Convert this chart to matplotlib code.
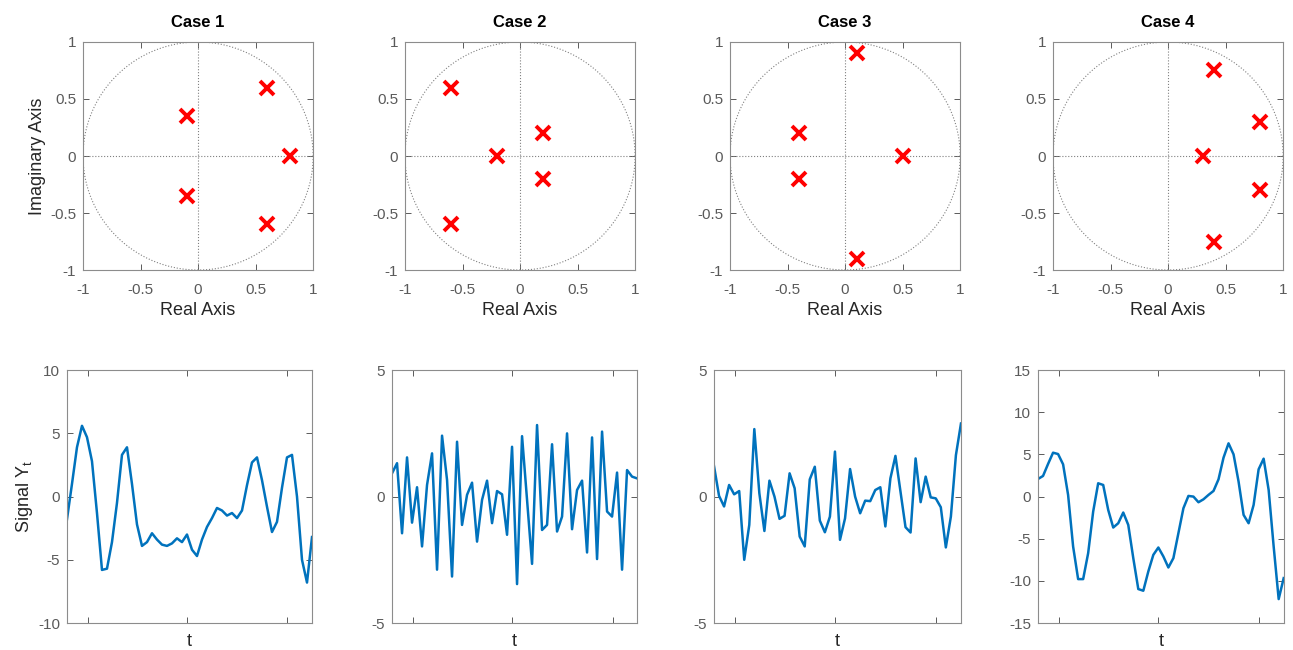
import numpy as np
import matplotlib
matplotlib.use("Agg")
import matplotlib.pyplot as plt

plt.rcParams['font.family'] = ['Liberation Sans', 'DejaVu Sans']
plt.rcParams['axes.unicode_minus'] = False

titles = ["Case 1", "Case 2", "Case 3", "Case 4"]

# Poles (real, imaginary)
pole_re = [
    [0.8, 0.6, 0.6, -0.1, -0.1],
    [-0.6, -0.6, -0.2, 0.2, 0.2],
    [0.1, 0.1, -0.4, -0.4, 0.5],
    [0.4, 0.4, 0.8, 0.8, 0.3],
]
pole_im = [
    [0.0, 0.6, -0.6, 0.35, -0.35],
    [0.6, -0.6, 0.0, 0.2, -0.2],
    [0.9, -0.9, 0.2, -0.2, 0.0],
    [0.75, -0.75, 0.3, -0.3, 0.0],
]

signal_1 = [-1.8, 1.0, 3.9, 5.6, 4.7, 2.8, -1.3, -5.8, -5.7, -3.6,
            -0.5, 3.3, 3.9, 1.0, -2.2, -3.9, -3.6, -2.9, -3.4, -3.8,
            -3.9, -3.7, -3.3, -3.6, -3.0, -4.2, -4.7, -3.4, -2.4, -1.7,
            -0.9, -1.1, -1.5, -1.3, -1.7, -1.1, 0.9, 2.7, 3.1, 1.3,
            -0.8, -2.8, -2.0, 0.7, 3.1, 3.3, 0.0, -5.0, -6.8, -3.2]
signal_2 = [0.92, 1.32, -1.45, 1.55, -1.03, 0.37, -1.97, 0.46, 1.71, -2.89,
            2.41, 0.66, -3.16, 2.17, -1.12, 0.07, 0.55, -1.78, -0.13, 0.63,
            -1.05, 0.22, 0.09, -1.51, 1.97, -3.46, 2.39, -0.13, -2.66, 2.83,
            -1.32, -1.12, 2.07, -1.38, -0.79, 2.50, -1.29, 0.26, 0.63, -2.21,
            2.34, -2.47, 2.57, -0.59, -0.79, 0.95, -2.89, 1.05, 0.79, 0.72]
signal_3 = [1.21, 0.03, -0.39, 0.46, 0.09, 0.22, -2.5, -1.12, 2.67, 0.13,
            -1.36, 0.63, 0.0, -0.88, -0.76, 0.92, 0.33, -1.58, -1.97, 0.68,
            1.18, -0.95, -1.41, -0.79, 1.78, -1.71, -0.86, 1.09, 0.0, -0.66,
            -0.16, -0.18, 0.26, 0.37, -1.18, 0.72, 1.61, 0.2, -1.21, -1.42,
            1.51, -0.22, 0.79, -0.03, -0.07, -0.42, -2.01, -0.79, 1.64, 2.89]
signal_4 = [2.09, 2.45, 3.87, 5.21, 5.05, 3.83, 0.2, -5.92, -9.79, -9.79,
            -6.71, -1.78, 1.58, 1.38, -1.58, -3.67, -3.16, -1.89, -3.36, -7.3,
            -10.97, -11.17, -8.88, -6.91, -6.04, -7.1, -8.41, -7.3, -4.34, -1.38,
            0.08, 0.0, -0.67, -0.32, 0.2, 0.67, 2.05, 4.62, 6.32, 5.01,
            1.78, -2.17, -3.16, -0.99, 3.24, 4.5, 0.79, -5.92, -12.16, -9.67]
signals = [signal_1, signal_2, signal_3, signal_4]

sig_ylims = [(-10, 10), (-5, 5), (-5, 5), (-15, 15)]
sig_yticks = [[-10, -5, 0, 5, 10], [-5, 0, 5], [-5, 0, 5], [-15, -10, -5, 0, 5, 10, 15]]

fig = plt.figure(figsize=(12.93, 6.5), dpi=100)

top_lefts = [0.0642, 0.3132, 0.5646, 0.8144]
top_w = 0.178
top_b, top_h = 0.5846, 0.3508
bot_lefts = [0.0518, 0.3032, 0.5522, 0.8028]
bot_ws = [0.1895, 0.1895, 0.191, 0.19]
bot_b, bot_h = 0.0415, 0.389

spine_col = '#8c8c8c'
tick_col = '#5a5a5a'
lab_col = '#262626'
blue = '#0072BD'

theta = np.linspace(0, 2 * np.pi, 400)

for i in range(4):
    ax = fig.add_axes([top_lefts[i], top_b, top_w, top_h])
    ax.plot(np.cos(theta), np.sin(theta), ls=':', color='#808080', lw=0.8)
    ax.axhline(0, ls=':', color='#808080', lw=0.8)
    ax.axvline(0, ls=':', color='#808080', lw=0.8)
    ax.plot(pole_re[i], pole_im[i], ls='none', marker='x', color='#FF0000',
            markersize=10, mew=2.8)
    ax.set_xlim(-1, 1)
    ax.set_ylim(-1, 1)
    ax.set_xticks([-1, -0.5, 0, 0.5, 1])
    ax.set_yticks([-1, -0.5, 0, 0.5, 1])
    ax.set_xticklabels(['-1', '-0.5', '0', '0.5', '1'])
    ax.set_yticklabels(['-1', '-0.5', '0', '0.5', '1'])
    ax.set_title(titles[i], fontsize=12, fontweight='bold', color='black', pad=11)
    ax.set_xlabel('Real Axis', fontsize=13, color=lab_col, labelpad=4)
    if i == 0:
        ax.set_ylabel('Imaginary Axis', fontsize=13, color=lab_col, labelpad=3)

    ax2 = fig.add_axes([bot_lefts[i], bot_b, bot_ws[i], bot_h])
    y = signals[i]
    x = np.arange(1, len(y) + 1)
    ax2.plot(x, y, color=blue, lw=1.8)
    ax2.set_xlim(1, len(y))
    ax2.set_ylim(*sig_ylims[i])
    ax2.set_yticks(sig_yticks[i])
    ax2.set_xticks([5.2, 25, 45.1])
    ax2.set_xticklabels([])
    if i == 0:
        ax2.set_ylabel('Signal Y$_\\mathregular{t}$', fontsize=13, color=lab_col, labelpad=2)

    for a in (ax, ax2):
        for s in a.spines.values():
            s.set_color(spine_col)
            s.set_linewidth(0.8)
        a.tick_params(direction='in', top=True, right=True, length=4,
                      width=0.6, color='#404040', labelsize=11, labelcolor=tick_col)
        a.tick_params(axis='y', pad=5)
    ax.tick_params(axis='x', pad=9)
    ax2.tick_params(axis='x', pad=3)
    ax2.set_xlabel('t', fontsize=13, color=lab_col, labelpad=4)

fig.savefig('out.png', dpi=100)
